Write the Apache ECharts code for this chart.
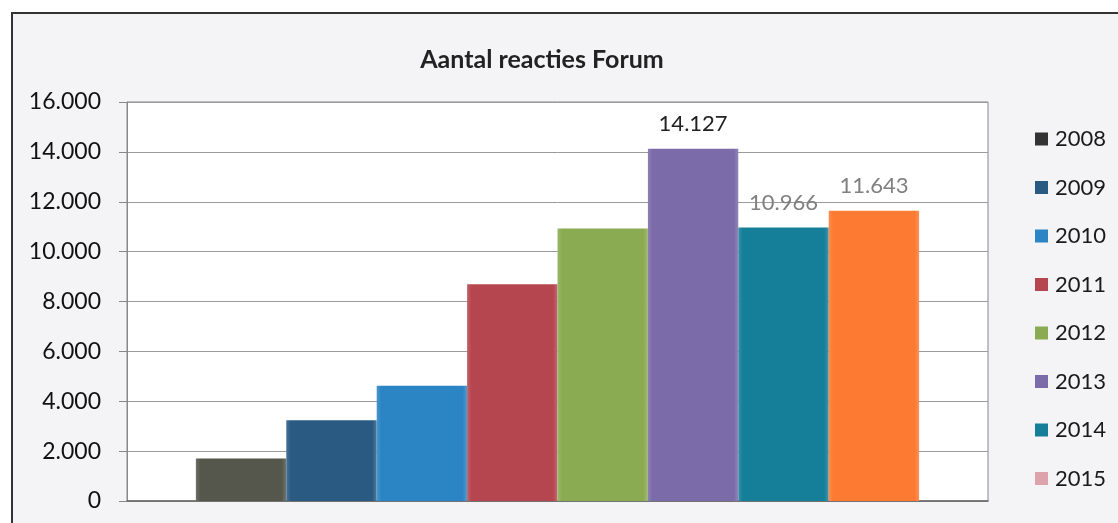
<!DOCTYPE html>
<html>
<head>
<meta charset="utf-8">
<script src="https://cdn.jsdelivr.net/npm/echarts@6/dist/echarts.min.js"></script>
<style>
  html, body { margin: 0; padding: 0; background: #fff; }
  #frame {
    position: absolute; left: 11px; top: 12px; width: 1120px; height: 520px;
    border-top: 2px solid #333; border-left: 2px solid #333; background: #f4f3f5;
  }
  #chart { position: absolute; left: 0; top: 0; width: 1118px; height: 523px; }
</style>
</head>
<body>
<div id="frame"></div>
<div id="chart"></div>
<script>
// chart data
const years = ['2008', '2009', '2010', '2011', '2012', '2013', '2014', '2015']
const reacties = [1700, 3240, 4620, 8690, 10930, 14127, 10966, 11643]
const barColors = ['#55564c', '#2a5a82', '#2b84c4', '#b5464f', '#8aab52', '#7b6ba8', '#157e98', '#fc7a32']
const legendColors = ['#333333', '#2a5a82', '#2b84c4', '#b5464f', '#8aab52', '#7b6ba8', '#157e98', '#dca3ad']
const labelYears = ['2013', '2014', '2015']
const labelColors = { '2013': '#222222', '2014': '#808080', '2015': '#808080' }
const yTicks = { min: 0, max: 16000, interval: 2000 }

const font = 'Lato, "Open Sans", sans-serif'

// 16000 -> 16.000
function dots(v) {
  return String(v).replace(/\B(?=(\d{3})+(?!\d))/g, '.')
}

const chart = echarts.init(document.getElementById('chart'))

const series = []
const legendData = []
for (const i in years) {
  const y = years[i]
  const c = barColors[i]
  legendData.push({ name: y, itemStyle: { color: legendColors[i] } })
  series.push({
    name: y,
    type: 'bar',
    barGap: 0,
    barCategoryGap: '16%',
    data: [reacties[i]],
    itemStyle: {
      // slight bevel look on the edges
      color: {
        type: 'linear', x: 0, y: 0, x2: 1, y2: 0,
        colorStops: [
          { offset: 0, color: echarts.color.lift(c, 0.15) },
          { offset: 0.05, color: c },
          { offset: 0.95, color: c },
          { offset: 1, color: echarts.color.lift(c, 0.18) }
        ]
      },
      borderWidth: 0
    },
    label: {
      show: labelYears.indexOf(y) !== -1,
      position: 'top',
      distance: 14,
      color: labelColors[y] || '#222',
      fontFamily: font,
      fontSize: 22,
      formatter: (p) => dots(p.value)
    }
  })
}

chart.setOption({
  animation: false,
  textStyle: { fontFamily: font },
  title: {
    text: 'Aantal reacties Forum',
    left: 537,
    textAlign: 'center',
    top: 42,
    textStyle: { fontFamily: font, fontSize: 25, fontWeight: 'bold', color: '#222' }
  },
  legend: {
    orient: 'vertical',
    left: 1030,
    top: 123,
    itemWidth: 13,
    itemHeight: 13,
    itemGap: 26.5,
    icon: 'rect',
    data: legendData,
    textStyle: { fontFamily: font, fontSize: 22, lineHeight: 22, color: '#1a1a1a', padding: [0, 0, 0, 2] }
  },
  grid: {
    left: 127,
    right: 130,
    top: 102,
    bottom: 22,
    show: true,
    backgroundColor: '#fff',
    borderColor: '#888',
    borderWidth: 1
  },
  xAxis: {
    type: 'category',
    data: [''],
    axisLine: { lineStyle: { color: '#666', width: 1.5 } },
    axisTick: { show: false },
    axisLabel: { show: false }
  },
  yAxis: {
    type: 'value',
    min: yTicks.min,
    max: yTicks.max,
    interval: yTicks.interval,
    axisLine: { show: true, lineStyle: { color: '#888' } },
    axisTick: { show: true, inside: false, length: 8, lineStyle: { color: '#888' } },
    splitLine: { lineStyle: { color: '#9a9a9a' } },
    axisLabel: {
      margin: 26,
      fontFamily: font,
      fontSize: 23,
      color: '#111',
      formatter: (v) => dots(v)
    }
  },
  series: series
})
</script>
</body>
</html>
